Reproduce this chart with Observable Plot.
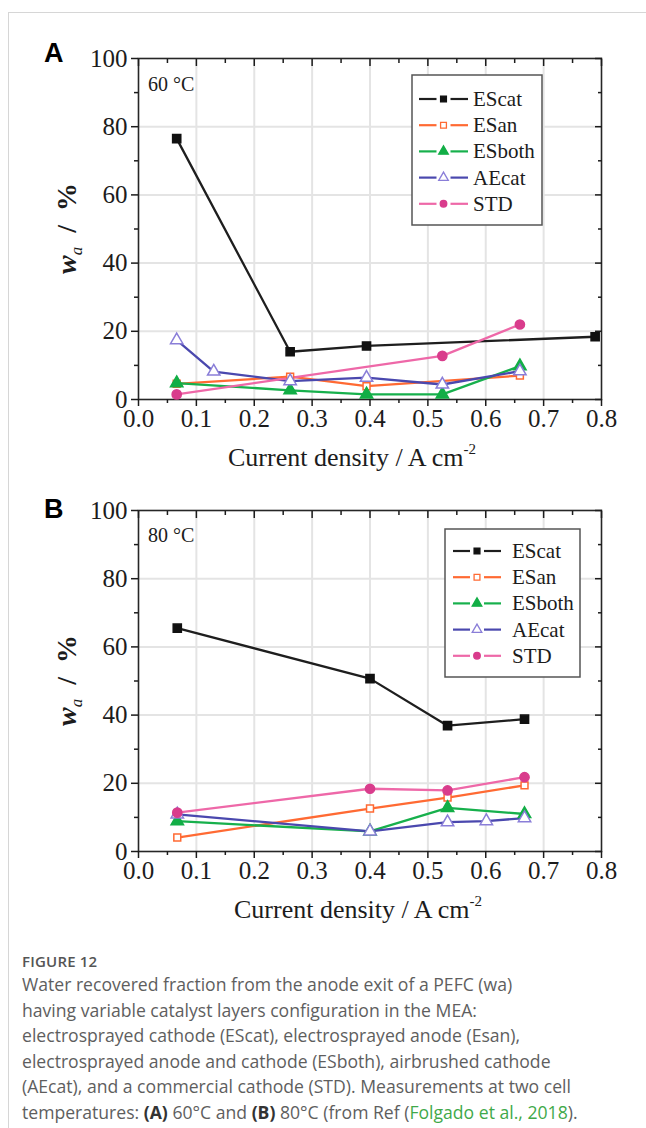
<!DOCTYPE html>
<html><head><meta charset="utf-8">
<script src="https://cdn.jsdelivr.net/npm/d3@7"></script>
<script src="https://cdn.jsdelivr.net/npm/@observablehq/plot@0.6"></script>
<style>
body{margin:0;background:#fff;}
#page{position:relative;width:646px;height:1128px;overflow:hidden;background:#fff;}
#topline{position:absolute;left:8px;top:12px;width:638px;height:0;border-top:1px solid #d6d6d6;}
#leftline{position:absolute;left:8px;top:12px;width:0;height:1116px;border-left:1px solid #d6d6d6;}
.panel{position:absolute;left:0;}
#caption{position:absolute;left:22px;top:950px;width:622px;font-family:"Open Sans",sans-serif;color:#5e5e5e;white-space:nowrap;}
#caption .fig{font-size:15px;font-weight:600;color:#555;letter-spacing:0.2px;line-height:22px;}
#caption .txt{font-size:17.6px;line-height:25.5px;font-weight:400;}
#caption b{color:#333;font-weight:700;}
#caption .ref{color:#3fa94a;}
</style></head>
<body>
<div id="page">
  <div id="topline"></div><div id="leftline"></div>
  <div id="panelA" class="panel" style="top:30px"></div>
  <div id="panelB" class="panel" style="top:482px"></div>
  <div id="caption">
    <div class="fig">FIGURE 12</div>
    <div class="txt">Water recovered fraction from the anode exit of a PEFC (wa)<br>having variable catalyst layers configuration in the MEA:<br>electrosprayed cathode (EScat), electrosprayed anode (Esan),<br>electrosprayed anode and cathode (ESboth), airbrushed cathode<br>(AEcat), and a commercial cathode (STD). Measurements at two cell<br>temperatures: <b>(A)</b> 60°C and <b>(B)</b> 80°C (from Ref (<span class="ref">Folgado et al., 2018</span>).</div>
  </div>
</div>
<script>
// ---------- data ----------
const seriesNames = ["EScat", "ESan", "ESboth", "AEcat", "STD"];
const xTicks = [0, 0.1, 0.2, 0.3, 0.4, 0.5, 0.6, 0.7, 0.8];
const xMinor = [0.05, 0.15, 0.25, 0.35, 0.45, 0.55, 0.65, 0.75];
const yTicks = [0, 20, 40, 60, 80, 100];
const yMinor = [10, 30, 50, 70, 90];
const xGrid = [0.1, 0.2, 0.3, 0.4, 0.5, 0.6, 0.7];
const yGrid = [20, 40, 60, 80];

// Panel A (60 °C)
const xA_EScat = [0.066, 0.262, 0.394, 0.789];
const yA_EScat = [76.5, 14.0, 15.7, 18.4];
const xA_ESan = [0.066, 0.262, 0.394, 0.659];
const yA_ESan = [4.6, 6.7, 3.9, 7.0];
const xA_ESboth = [0.066, 0.262, 0.394, 0.525, 0.659];
const yA_ESboth = [4.8, 2.7, 1.5, 1.5, 9.8];
const xA_AEcat = [0.066, 0.130, 0.262, 0.394, 0.525, 0.659];
const yA_AEcat = [17.4, 8.2, 5.4, 6.4, 4.4, 8.3];
const xA_STD = [0.066, 0.525, 0.659];
const yA_STD = [1.5, 12.8, 22.0];

// Panel B (80 °C)
const xB_EScat = [0.067, 0.400, 0.534, 0.667];
const yB_EScat = [65.5, 50.7, 36.9, 38.8];
const xB_ESan = [0.067, 0.400, 0.534, 0.667];
const yB_ESan = [4.1, 12.6, 15.8, 19.4];
const xB_ESboth = [0.067, 0.400, 0.534, 0.667];
const yB_ESboth = [8.9, 5.9, 12.8, 11.0];
const xB_AEcat = [0.067, 0.400, 0.534, 0.601, 0.667];
const yB_AEcat = [10.9, 5.9, 8.6, 8.9, 9.8];
const xB_STD = [0.067, 0.400, 0.534, 0.667];
const yB_STD = [11.4, 18.4, 17.9, 21.8];

// ---------- styles ----------
const lineColors = ["#1e1e1e", "#ff6a33", "#17b04c", "#4a48ae", "#ee68a8"];
const markFill = ["#111111", "#ffffff", "#12ae46", "#ffffff", "#d93c8c"];
const markStroke = ["#111111", "#ff6a33", "#12ae46", "#8a7ed8", "#d93c8c"];
const markSymbol = ["square", "square", "triangle", "triangle", "circle"];
const markR = [4.6, 3.9, 4.6, 4.6, 4.6];
const d3Sym = {square: d3.symbolSquare, triangle: d3.symbolTriangle, circle: d3.symbolCircle};

const SERIF = "'Liberation Serif','Times New Roman',serif";

function makePanel(target, cfg) {
  const W = 646, H = 460;
  const marks = [
    Plot.gridX({ticks: xGrid, stroke: "#e4e4e4", strokeWidth: 2, strokeOpacity: 1}),
    Plot.gridY({ticks: yGrid, stroke: "#e4e4e4", strokeWidth: 2, strokeOpacity: 1}),
    Plot.frame({stroke: "#262626", strokeWidth: 1.6}),
    Plot.axisX({ticks: xTicks, tickSize: 7, tickPadding: 3, strokeWidth: 1.5, label: null,
      tickFormat: d => d.toFixed(1), fontSize: 25, fill: "#1c1c1c"}),
    Plot.axisX({ticks: xMinor, tickSize: 4, strokeWidth: 1.5, text: null, label: null}),
    Plot.axisX({anchor: "top", ticks: xTicks, tickSize: 7, insetTop: 7, strokeWidth: 1.5, text: null, label: null}),
    Plot.axisX({anchor: "top", ticks: xMinor, tickSize: 4, insetTop: 4, strokeWidth: 1.5, text: null, label: null}),
    Plot.axisY({ticks: yTicks, tickSize: 7, tickPadding: 4, strokeWidth: 1.5, label: null, fontSize: 25, fill: "#1c1c1c"}),
    Plot.axisY({ticks: yMinor, tickSize: 4, strokeWidth: 1.5, text: null, label: null}),
    Plot.axisY({anchor: "right", ticks: yTicks, tickSize: 7, insetRight: 7, strokeWidth: 1.5, text: null, label: null}),
    Plot.axisY({anchor: "right", ticks: yMinor, tickSize: 4, insetRight: 4, strokeWidth: 1.5, text: null, label: null})
  ];
  seriesNames.forEach((s, i) => {
    const rows = cfg.xs[i].map((x, j) => ({series: s, x, y: cfg.ys[i][j]}));
    marks.push(Plot.line(rows, {x: "x", y: "y", stroke: lineColors[i], strokeWidth: 2.3}));
  });
  seriesNames.forEach((s, i) => {
    const rows = cfg.xs[i].map((x, j) => ({series: s, x, y: cfg.ys[i][j]}));
    marks.push(Plot.dot(rows, {x: "x", y: "y", symbol: markSymbol[i], r: markR[i],
      fill: markFill[i], stroke: markStroke[i], strokeWidth: 1.5}));
  });
  const plot = Plot.plot({
    width: W, height: H,
    marginLeft: 138, marginRight: 45, marginTop: 28, marginBottom: 91,
    x: {domain: [0, 0.8]},
    y: {domain: [0, 100]},
    style: {fontFamily: SERIF, fontSize: "25px", color: "#1c1c1c", background: "transparent", overflow: "visible"},
    marks
  });
  const svg = d3.select(plot);
  // panel letter
  svg.append("text").attr("x", 44).attr("y", cfg.letterY).text(cfg.letter).attr("text-anchor", "start")
    .attr("font-family", "'Liberation Sans',Arial,sans-serif").attr("font-weight", 700)
    .attr("font-size", 27).attr("fill", "#000");
  // temperature
  svg.append("text").attr("x", 148).attr("y", cfg.tempY).text(cfg.temp).attr("text-anchor", "start")
    .attr("font-family", SERIF).attr("font-size", 20).attr("fill", "#1c1c1c");
  // x title
  const xt = svg.append("text").attr("x", cfg.xTitleX).attr("y", 436).attr("text-anchor", "middle")
    .attr("font-family", SERIF).attr("font-size", 26).attr("fill", "#1c1c1c");
  xt.append("tspan").text("Current density / A cm");
  xt.append("tspan").text("-2").attr("font-size", 15).attr("dy", -12);
  // y title
  const yt = svg.append("text").attr("transform", `translate(76,${(28 + 369) / 2}) rotate(-90)`)
    .attr("text-anchor", "middle").attr("font-family", SERIF).attr("font-size", 28).attr("fill", "#1c1c1c")
    .attr("xml:space", "preserve");
  yt.append("tspan").text("w").attr("font-style", "italic").attr("font-weight", 700);
  yt.append("tspan").text("a").attr("font-style", "italic").attr("font-size", 17).attr("dy", 6);
  yt.append("tspan").text("  /  %").attr("dy", -6).attr("font-weight", 700);
  // legend
  const L = cfg.legend;
  const g = svg.append("g");
  g.append("rect").attr("x", L.x0).attr("y", L.y0).attr("width", L.x1 - L.x0).attr("height", L.y1 - L.y0)
    .attr("fill", "#fff").attr("stroke", "#555").attr("stroke-width", 1.5);
  seriesNames.forEach((s, i) => {
    const y = L.first + i * L.step;
    const mid = (L.lx0 + L.lx1) / 2;
    [[L.lx0, mid - 7], [mid + 7, L.lx1]].forEach(([a, b]) => {
      g.append("line").attr("x1", a).attr("x2", b).attr("y1", y).attr("y2", y)
        .attr("stroke", lineColors[i]).attr("stroke-width", 2.2);
    });
    g.append("path").attr("d", d3.symbol(d3Sym[markSymbol[i]], markSymbol[i] === "triangle" ? 40 : 34)())
      .attr("transform", `translate(${mid},${y})`)
      .attr("fill", markFill[i]).attr("stroke", markStroke[i]).attr("stroke-width", 1.3);
    g.append("text").attr("x", L.tx).attr("y", y + 7).text(s).attr("text-anchor", "start")
      .attr("font-family", SERIF).attr("font-size", 21).attr("fill", "#1c1c1c");
  });
  document.getElementById(target).appendChild(plot);
}

makePanel("panelA", {
  xs: [xA_EScat, xA_ESan, xA_ESboth, xA_AEcat, xA_STD],
  ys: [yA_EScat, yA_ESan, yA_ESboth, yA_AEcat, yA_STD],
  letter: "A", letterY: 32, temp: "60 °C", tempY: 61, xTitleX: 352,
  legend: {x0: 412, x1: 542, y0: 45, y1: 195, first: 69, step: 26.2, lx0: 419, lx1: 468, tx: 473}
});
makePanel("panelB", {
  xs: [xB_EScat, xB_ESan, xB_ESboth, xB_AEcat, xB_STD],
  ys: [yB_EScat, yB_ESan, yB_ESboth, yB_AEcat, yB_STD],
  letter: "B", letterY: 36, temp: "80 °C", tempY: 60, xTitleX: 358,
  legend: {x0: 445, x1: 580, y0: 47, y1: 195, first: 69, step: 26.2, lx0: 453, lx1: 501, tx: 512}
});
</script>
</body></html>
